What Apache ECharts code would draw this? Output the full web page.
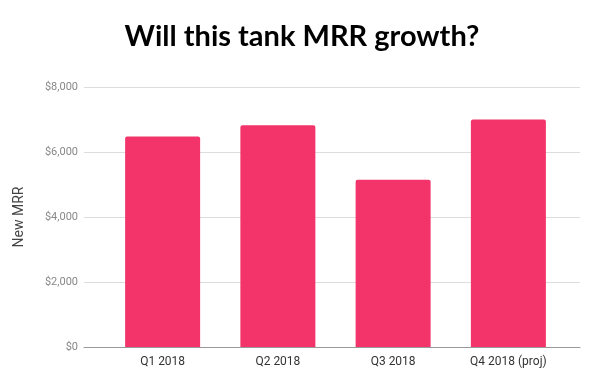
<!DOCTYPE html>
<html><head><meta charset="utf-8">
<script src="https://cdn.jsdelivr.net/npm/echarts@6/dist/echarts.min.js"></script>
<style>html,body{margin:0;padding:0;background:#fff}#c{width:600px;height:384px}</style>
</head><body><div id="c"></div>
<script>
var categories = ['Q1 2018', 'Q2 2018', 'Q3 2018', 'Q4 2018 (proj)'];
var newMRR = [6480, 6820, 5150, 7000];
var yTicks = [0, 2000, 4000, 6000, 8000];

var chart = echarts.init(document.getElementById('c'), null, {renderer: 'canvas'});
var G = {top: 87, bottom: 37};
chart.setOption({
  backgroundColor: '#fff',
  animation: false,
  title: {
    text: 'Will this tank MRR growth?', left: 297, textAlign: 'center', top: 17,
    textStyle: {fontFamily: 'Lato', fontWeight: 'bold', fontSize: 29, color: '#000'}
  },
  grid: [
    {left: 84, right: 20, top: G.top, bottom: G.bottom},
    {left: 105, right: 34, top: G.top, bottom: G.bottom}
  ],
  xAxis: [
    {gridIndex: 0, type: 'category', data: categories, axisTick: {show: false}, axisLabel: {show: false},
     axisLine: {show: true, lineStyle: {color: '#999', width: 1}}},
    {gridIndex: 1, type: 'category', data: categories, axisTick: {show: false}, axisLine: {show: false},
     axisLabel: {color: '#333', fontFamily: 'Roboto', fontSize: 12, margin: 9}}
  ],
  yAxis: [
    {gridIndex: 0, type: 'value', min: yTicks[0], max: yTicks[yTicks.length - 1], interval: 2000,
     name: 'New MRR', nameLocation: 'middle', nameGap: 58,
     nameTextStyle: {color: '#444', fontFamily: 'Roboto', fontSize: 14},
     axisLine: {show: false}, axisTick: {show: false},
     axisLabel: {color: '#888', fontFamily: 'Roboto', fontSize: 11, margin: 6,
       formatter: function (v) { return '$' + v.toLocaleString('en-US'); }},
     splitLine: {lineStyle: {color: '#ddd', width: 1}}},
    {gridIndex: 1, type: 'value', min: yTicks[0], max: yTicks[yTicks.length - 1], show: false}
  ],
  series: [{
    type: 'bar', xAxisIndex: 1, yAxisIndex: 1, data: newMRR, barWidth: 75,
    itemStyle: {color: '#f2346b', borderRadius: [2, 2, 0, 0]}
  }]
});
</script></body></html>
